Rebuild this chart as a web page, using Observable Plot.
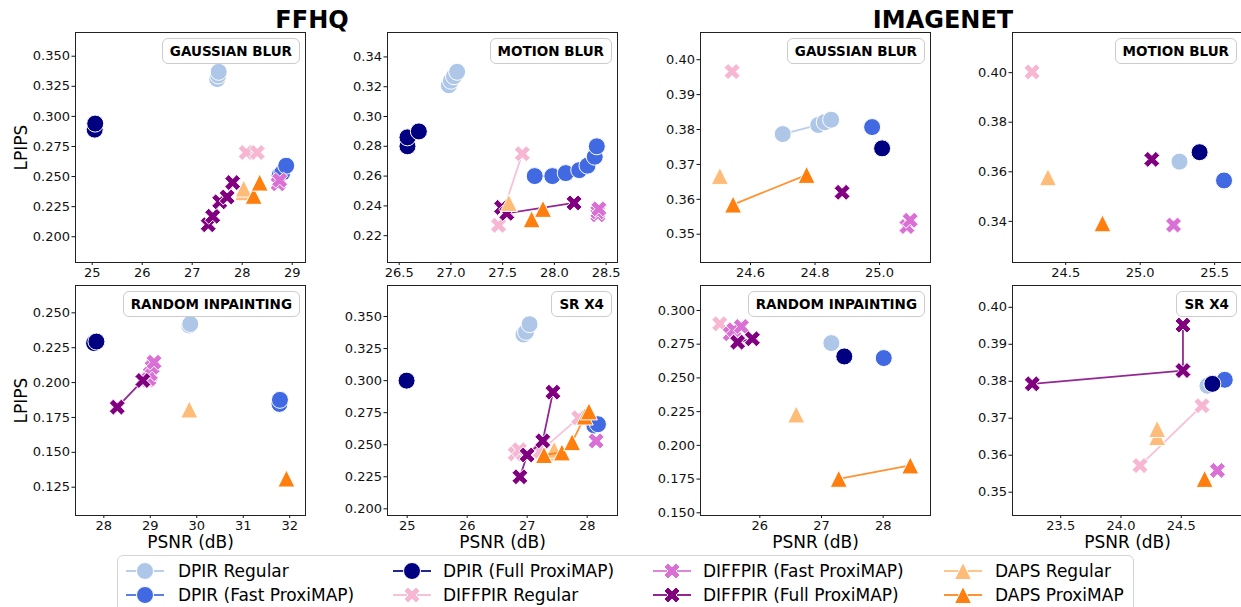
<!DOCTYPE html>
<html><head><meta charset="utf-8">
<script src="https://cdn.jsdelivr.net/npm/d3@7"></script>
<script src="https://cdn.jsdelivr.net/npm/@observablehq/plot@0.6"></script>
<style>
html,body{margin:0;padding:0;background:#fff;overflow:hidden;}
#root{position:relative;width:1241px;height:607px;font-family:"DejaVu Sans",sans-serif;color:#000;}
.panel{position:absolute;}
.tag{position:absolute;font-weight:bold;font-size:13.5px;height:24px;line-height:24px;padding:0 7px;border:1px solid #cccccc;border-radius:6px;background:rgba(255,255,255,0.85);white-space:nowrap;}
.title{position:absolute;width:400px;text-align:center;font-weight:bold;font-size:24px;line-height:24px;}
.legendbox{position:absolute;left:117px;top:555px;width:1015px;height:70px;border:1px solid #d4d4d4;border-radius:6px;}
.litem{position:absolute;font-size:17px;line-height:20px;white-space:nowrap;}
.lsw{position:absolute;}
</style></head>
<body><div id="root"></div>
<script>
// ---- series ----
const seriesNames = ["DPIR Regular","DPIR (Fast ProxiMAP)","DPIR (Full ProxiMAP)","DIFFPIR Regular","DIFFPIR (Fast ProxiMAP)","DIFFPIR (Full ProxiMAP)","DAPS Regular","DAPS ProxiMAP"];
const seriesColors = ["#aec7e8","#4169e1","#000080","#f7b6d2","#da70d6","#800080","#ffbb78","#ff7f0e"];
const seriesShapes = ["circle","circle","circle","x","x","x","triangle","triangle"];

// ---- data: [series index, PSNR (dB), LPIPS] ----
const ffhqGaussian = [
  [0,27.50,0.331],[0,27.52,0.334],[0,27.53,0.337],
  [1,28.75,0.251],[1,28.80,0.253],[1,28.88,0.259],
  [2,25.05,0.289],[2,25.06,0.294],
  [3,28.08,0.270],[3,28.30,0.270],
  [4,28.72,0.244],[4,28.75,0.247],
  [5,27.32,0.210],[5,27.41,0.217],[5,27.55,0.229],[5,27.70,0.233],[5,27.81,0.245],
  [6,28.02,0.237],[6,28.03,0.240],
  [7,28.23,0.234],[7,28.35,0.245]
];
const ffhqMotion = [
  [0,26.98,0.321],[0,27.00,0.324],[0,27.03,0.327],[0,27.06,0.330],
  [1,27.81,0.260],[1,27.98,0.260],[1,28.11,0.262],[1,28.24,0.264],[1,28.32,0.267],[1,28.39,0.273],[1,28.41,0.280],
  [2,26.58,0.280],[2,26.58,0.286],[2,26.69,0.290],
  [3,27.46,0.227],[3,27.69,0.275],
  [4,28.42,0.234],[4,28.42,0.236],[4,28.43,0.238],
  [5,27.49,0.239],[5,27.54,0.235],[5,28.19,0.242],
  [6,27.56,0.242],
  [7,27.78,0.231],[7,27.89,0.238]
];
const imagenetGaussian = [
  [0,24.70,0.3787],[0,24.81,0.3813],[0,24.83,0.3821],[0,24.85,0.3828],
  [1,24.977,0.3807],
  [2,25.008,0.3746],
  [3,24.543,0.3966],
  [4,25.085,0.3522],[4,25.095,0.3540],
  [5,24.884,0.3620],
  [6,24.505,0.3667],
  [7,24.546,0.3585],[7,24.774,0.3670]
];
const imagenetMotion = [
  [0,25.264,0.3641],[1,25.563,0.3565],[2,25.399,0.3679],[3,24.275,0.4003],
  [4,25.224,0.3385],[5,25.078,0.3650],[6,24.381,0.3578],[7,24.747,0.3392]
];
const ffhqInpainting = [
  [0,29.84,0.2409],[0,29.86,0.2420],
  [1,31.78,0.1847],[1,31.79,0.1876],
  [2,27.79,0.2283],[2,27.84,0.2294],
  [3,28.95,0.2015],[3,29.00,0.2050],
  [4,28.97,0.2027],[4,29.00,0.2063],[4,29.04,0.2110],[4,29.08,0.2146],
  [5,28.29,0.1824],[5,28.84,0.2015],
  [6,29.84,0.1807],
  [7,31.93,0.1312]
];
const ffhqSR = [
  [0,26.94,0.336],[0,26.98,0.338],[0,27.04,0.344],
  [1,28.12,0.265],[1,28.18,0.266],
  [2,24.99,0.300],
  [3,26.80,0.243],[3,26.87,0.246],[3,27.22,0.245],[3,27.86,0.271],
  [4,28.15,0.253],
  [5,26.88,0.225],[5,27.00,0.242],[5,27.26,0.253],[5,27.43,0.291],
  [6,27.42,0.244],[6,27.45,0.246],
  [7,27.28,0.242],[7,27.58,0.244],[7,27.75,0.252],[7,27.96,0.272],[7,28.03,0.276]
];
const imagenetInpainting = [
  [0,27.16,0.2758],[1,28.01,0.2647],[2,27.37,0.2659],
  [3,25.35,0.2901],
  [4,25.52,0.2827],[4,25.58,0.2857],[4,25.70,0.2881],
  [5,25.64,0.2765],[5,25.88,0.2790],
  [6,26.59,0.2229],
  [7,27.28,0.1752],[7,28.44,0.1851]
];
const imagenetSR = [
  [0,24.717,0.3788],[1,24.861,0.3804],[2,24.758,0.3793],
  [3,24.158,0.3572],[3,24.672,0.3734],
  [4,24.80,0.3559],
  [5,23.264,0.3793],[5,24.514,0.3829],[5,24.514,0.3952],
  [6,24.30,0.3649],[6,24.30,0.3671],
  [7,24.694,0.3536]
];

// ---- ticks ----
const ffhqGaussianXTicks = [25,26,27,28,29];
const ffhqGaussianYTicks = [0.200,0.225,0.250,0.275,0.300,0.325,0.350];
const ffhqMotionXTicks = [26.5,27.0,27.5,28.0,28.5];
const ffhqMotionYTicks = [0.22,0.24,0.26,0.28,0.30,0.32,0.34];
const imagenetGaussianXTicks = [24.6,24.8,25.0];
const imagenetGaussianYTicks = [0.35,0.36,0.37,0.38,0.39,0.40];
const imagenetMotionXTicks = [24.5,25.0,25.5];
const imagenetMotionYTicks = [0.34,0.36,0.38,0.40];
const ffhqInpaintingXTicks = [28,29,30,31,32];
const ffhqInpaintingYTicks = [0.125,0.150,0.175,0.200,0.225,0.250];
const ffhqSRXTicks = [25,26,27,28];
const ffhqSRYTicks = [0.200,0.225,0.250,0.275,0.300,0.325,0.350];
const imagenetInpaintingXTicks = [26,27,28];
const imagenetInpaintingYTicks = [0.150,0.175,0.200,0.225,0.250,0.275,0.300];
const imagenetSRXTicks = [23.5,24.0,24.5];
const imagenetSRYTicks = [0.35,0.36,0.37,0.38,0.39,0.40];

const panelTitles = ["GAUSSIAN BLUR","MOTION BLUR","GAUSSIAN BLUR","MOTION BLUR","RANDOM INPAINTING","SR X4","RANDOM INPAINTING","SR X4"];
const groupTitles = ["FFHQ","IMAGENET"];
const xLabel = "PSNR (dB)";
const yLabel = "LPIPS";

// ---- symbols ----
const symX = {draw(ctx, size){
  const a = Math.sqrt(size/Math.PI), t = a/3;
  const pts = [[-t,-a],[t,-a],[t,-t],[a,-t],[a,t],[t,t],[t,a],[-t,a],[-t,t],[-a,t],[-a,-t],[-t,-t]]
    .map(([x,y])=>[(x-y)/Math.SQRT2,(x+y)/Math.SQRT2]);
  ctx.moveTo(pts[0][0],pts[0][1]);
  for (let i=1;i<pts.length;i++) ctx.lineTo(pts[i][0],pts[i][1]);
  ctx.closePath();
}};
const symTri = {draw(ctx, size){
  const h = Math.sqrt(size/Math.PI);
  ctx.moveTo(0,-h); ctx.lineTo(h,h); ctx.lineTo(-h,h); ctx.closePath();
}};
const symbols = {circle:"circle", x:symX, triangle:symTri};

const panels = [
  {data:ffhqGaussian, frame:[75,32], xDomain:[24.666,29.266], yDomain:[0.1786,0.3697], xTicks:ffhqGaussianXTicks, yTicks:ffhqGaussianYTicks, xFmt:"d", yFmt:".3f", yl:true, xl:false},
  {data:ffhqMotion, frame:[387,32], xDomain:[26.387,28.61], yDomain:[0.2020,0.3564], xTicks:ffhqMotionXTicks, yTicks:ffhqMotionYTicks, xFmt:".1f", yFmt:".2f", yl:false, xl:false},
  {data:imagenetGaussian, frame:[700,32], xDomain:[24.445,25.158], yDomain:[0.3419,0.4078], xTicks:imagenetGaussianXTicks, yTicks:imagenetGaussianYTicks, xFmt:".1f", yFmt:".2f", yl:false, xl:false},
  {data:imagenetMotion, frame:[1012,32], xDomain:[24.143,25.687], yDomain:[0.3234,0.4162], xTicks:imagenetMotionXTicks, yTicks:imagenetMotionYTicks, xFmt:".1f", yFmt:".2f", yl:false, xl:false},
  {data:ffhqInpainting, frame:[75,285], xDomain:[27.39,32.34], yDomain:[0.1047,0.2696], xTicks:ffhqInpaintingXTicks, yTicks:ffhqInpaintingYTicks, xFmt:"d", yFmt:".3f", yl:true, xl:true},
  {data:ffhqSR, frame:[387,285], xDomain:[24.672,28.506], yDomain:[0.1948,0.3742], xTicks:ffhqSRXTicks, yTicks:ffhqSRYTicks, xFmt:"d", yFmt:".3f", yl:false, xl:true},
  {data:imagenetInpainting, frame:[700,285], xDomain:[25.038,28.768], yDomain:[0.148,0.3185], xTicks:imagenetInpaintingXTicks, yTicks:imagenetInpaintingYTicks, xFmt:"d", yFmt:".3f", yl:false, xl:true},
  {data:imagenetSR, frame:[1012,285], xDomain:[23.1,25.008], yDomain:[0.3437,0.4059], xTicks:imagenetSRXTicks, yTicks:imagenetSRYTicks, xFmt:".1f", yFmt:".2f", yl:false, xl:true}
];

const root = document.getElementById("root");
const mL=75, mR=6, mT=6, mB=50, W=230, H=230;

panels.forEach((p, k) => {
  const [fx, fy] = p.frame;
  const marks = [Plot.frame({stroke:"#222", strokeWidth:1})];
  for (let s=0; s<seriesNames.length; s++) {
    const rows = p.data.filter(d => d[0] === s);
    if (!rows.length) continue;
    if (rows.length > 1) marks.push(Plot.line(rows, {x:d=>d[1], y:d=>d[2], stroke:seriesColors[s], strokeWidth:1.8, strokeOpacity:0.85}));
    marks.push(Plot.dot(rows, {x:d=>d[1], y:d=>d[2], r:8.5, symbol:symbols[seriesShapes[s]], fill:seriesColors[s], stroke:"white", strokeWidth:1}));
  }
  if (p.yl) marks.push(Plot.text([yLabel], {frameAnchor:"left", dx:-54, rotate:-90, textAnchor:"middle", lineAnchor:"middle", fontSize:17, text:d=>d, fill:"#000"}));
  if (p.xl) marks.push(Plot.text([xLabel], {frameAnchor:"bottom", dy:27.5, textAnchor:"middle", lineAnchor:"middle", fontSize:17, text:d=>d, fill:"#000"}));
  const svg = Plot.plot({
    width: mL+W+mR, height: mT+H+mB,
    marginLeft:mL, marginRight:mR, marginTop:mT, marginBottom:mB,
    style:{fontFamily:"'DejaVu Sans', sans-serif", fontSize:"13px", background:"transparent", overflow:"visible", maxWidth:"none", color:"#111"},
    x:{domain:p.xDomain, ticks:p.xTicks, tickFormat:d3.format(p.xFmt), tickSize:3, tickPadding:2, label:null},
    y:{domain:p.yDomain, ticks:p.yTicks, tickFormat:d3.format(p.yFmt), tickSize:3.5, tickPadding:2, label:null},
    marks
  });
  const wrap = document.createElement("div");
  wrap.className = "panel";
  wrap.style.left = (fx - mL) + "px";
  wrap.style.top = (fy - mT) + "px";
  wrap.appendChild(svg);
  root.appendChild(wrap);

  const tag = document.createElement("div");
  tag.className = "tag";
  tag.textContent = panelTitles[k];
  tag.style.right = (1241 - (fx + W - 5)) + "px";
  tag.style.top = (fy + 6) + "px";
  root.appendChild(tag);
});

// group titles
[[groupTitles[0], 312],[groupTitles[1], 943]].forEach(([t, cx]) => {
  const d = document.createElement("div");
  d.className = "title";
  d.textContent = t;
  d.style.left = (cx - 200) + "px";
  d.style.top = "8px";
  root.appendChild(d);
});

// legend
const lb = document.createElement("div");
lb.className = "legendbox";
root.appendChild(lb);
const colSw = [145, 412, 672, 963], colTx = [178, 443, 703, 995], rowY = [571, 595];
seriesNames.forEach((name, i) => {
  const c = Math.floor(i/2), r = i%2;
  const sw = d3.create("svg").attr("width",40).attr("height",22).attr("class","lsw")
    .style("left",(colSw[c]-20)+"px").style("top",(rowY[r]-11)+"px");
  sw.append("line").attr("x1",1).attr("x2",39).attr("y1",11).attr("y2",11)
    .attr("stroke",seriesColors[i]).attr("stroke-width",1.8).attr("stroke-opacity",0.85);
  const sh = symbols[seriesShapes[i]];
  const path = d3.path();
  const size = 8.5*8.5*Math.PI;
  if (sh === "circle") { path.moveTo(8.5,0); path.arc(0,0,8.5,0,2*Math.PI); }
  else sh.draw(path, size);
  sw.append("path").attr("d", path.toString()).attr("transform","translate(20,11)")
    .attr("fill",seriesColors[i]).attr("stroke","white").attr("stroke-width",1);
  root.appendChild(sw.node());
  const t = document.createElement("div");
  t.className = "litem";
  t.textContent = name;
  t.style.left = colTx[c] + "px";
  t.style.top = (rowY[r]-10) + "px";
  root.appendChild(t);
});
</script></body></html>
